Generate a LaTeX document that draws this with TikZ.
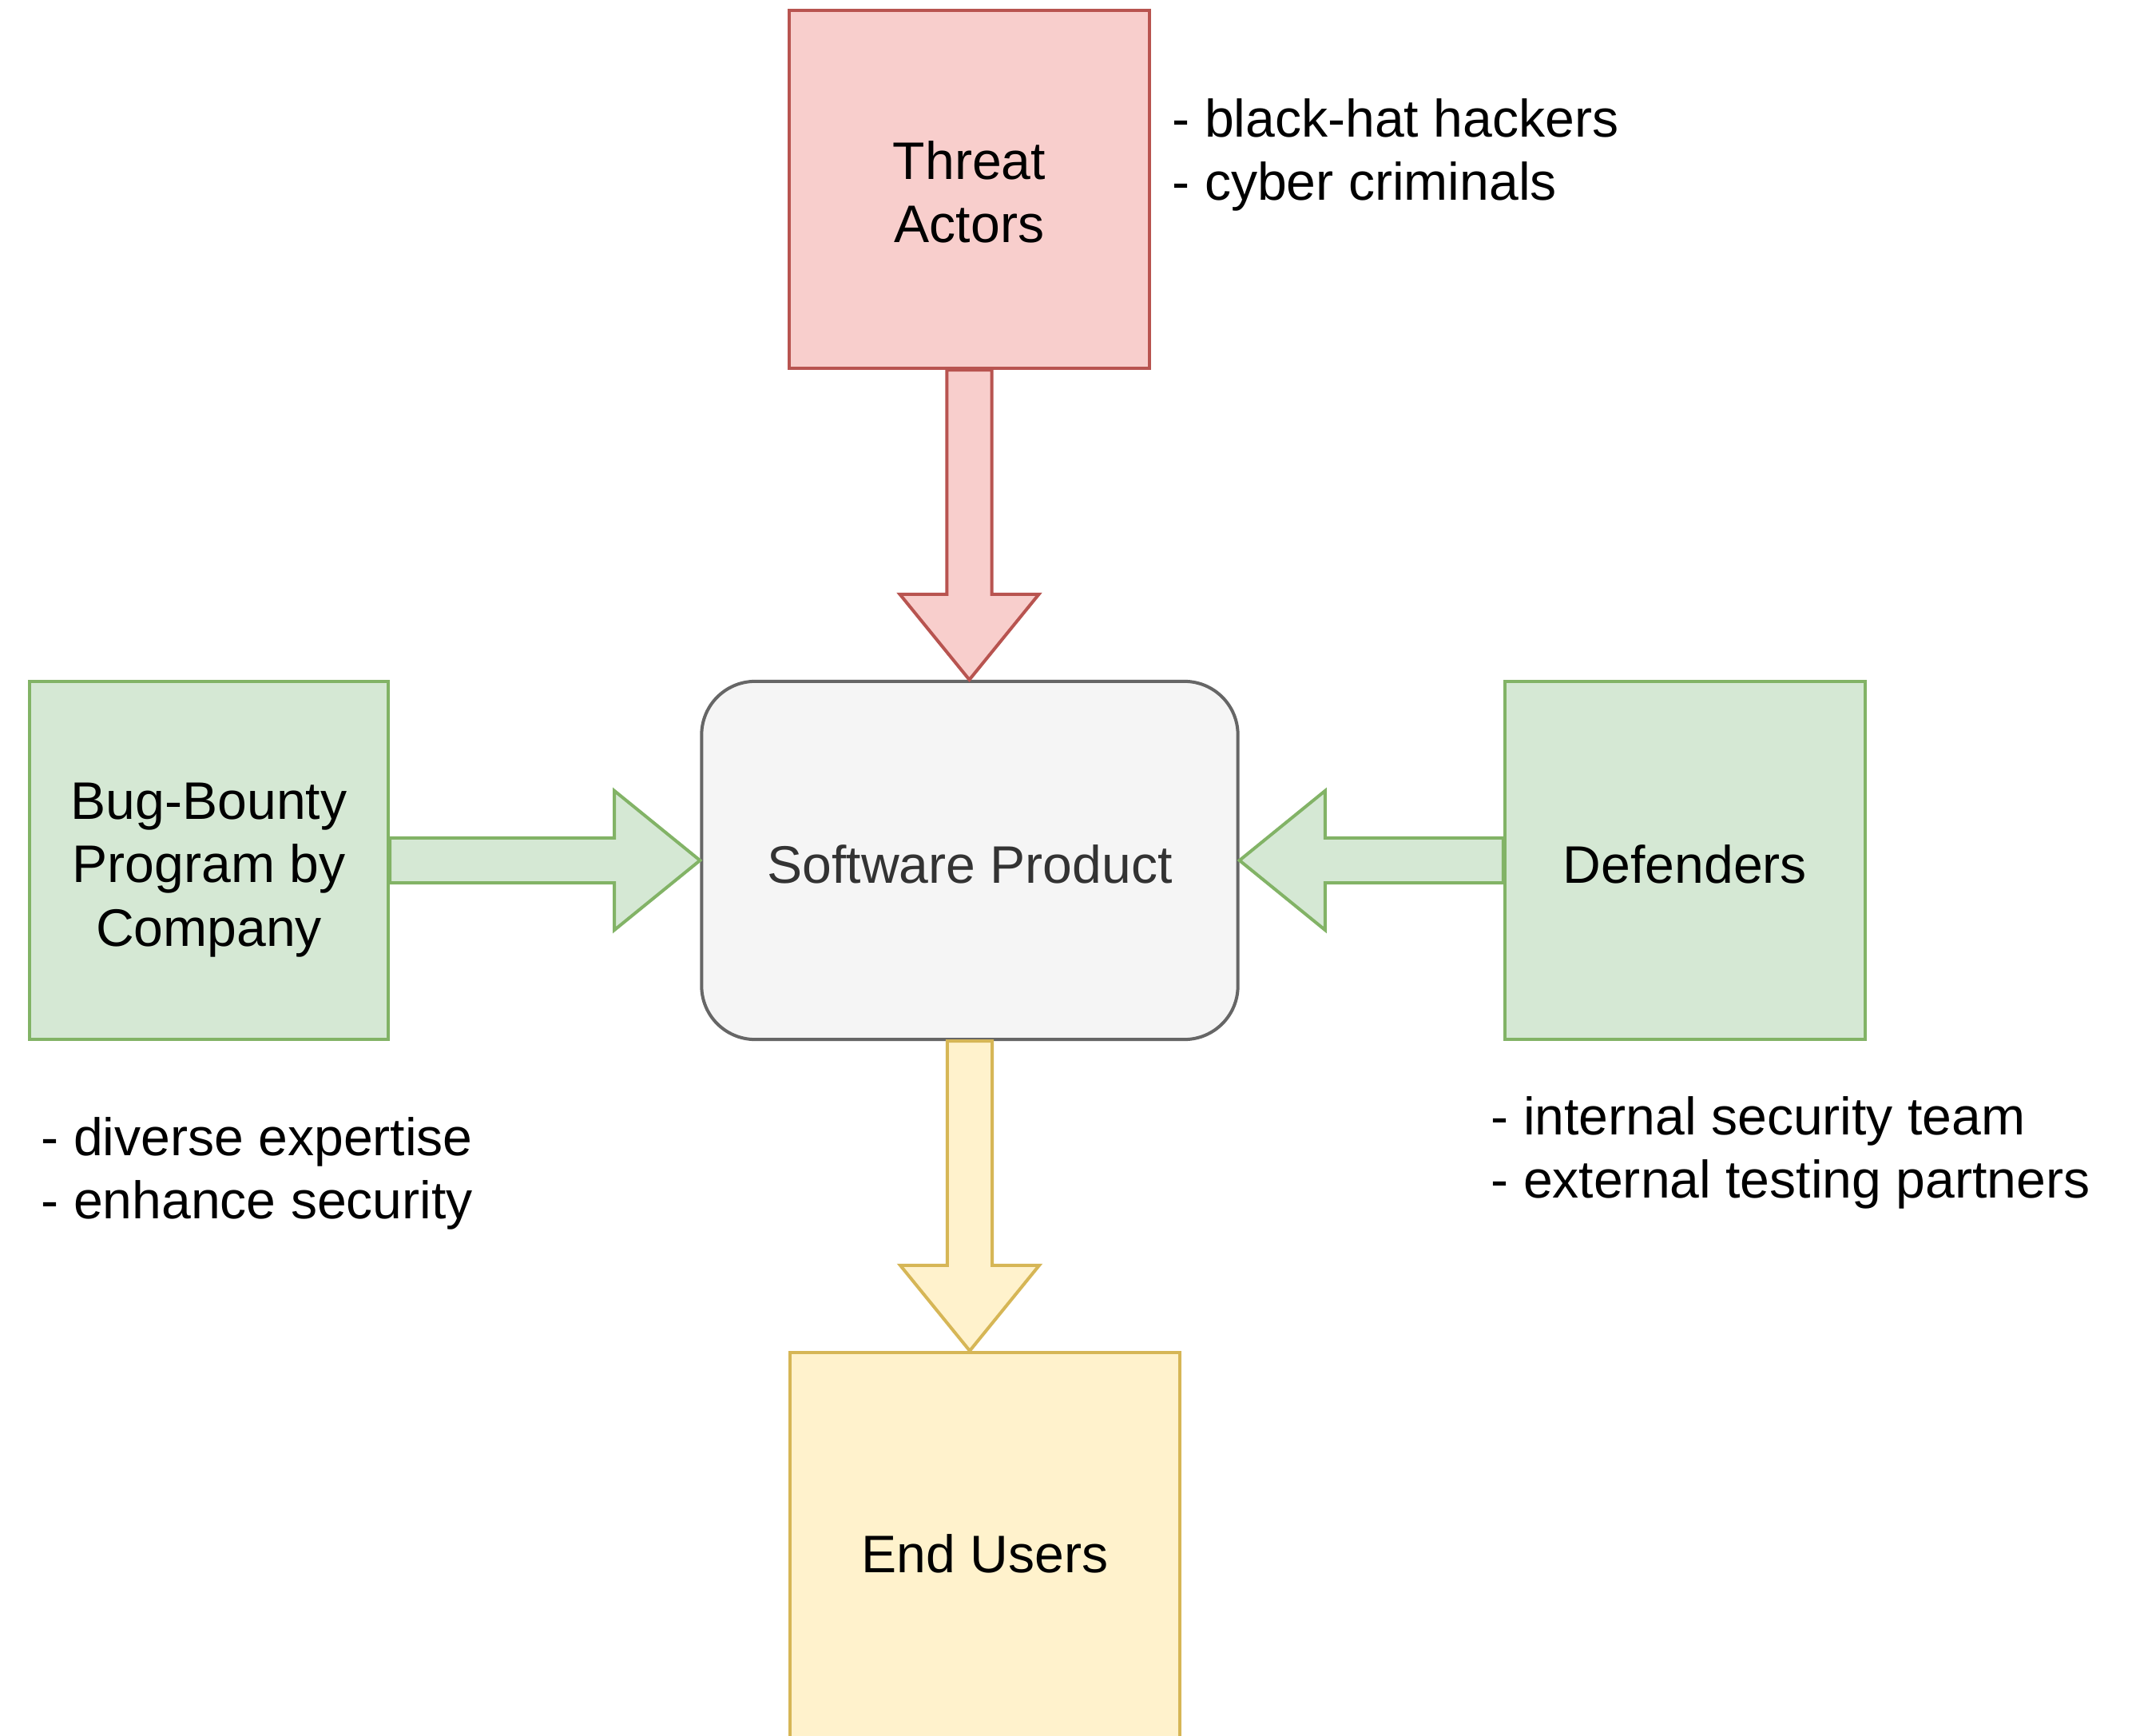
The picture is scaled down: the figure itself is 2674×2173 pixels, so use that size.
\documentclass[tikz,border=0pt]{standalone}
\usepackage{fontspec}
\setmainfont{Liberation Sans}
\usetikzlibrary{calc}
\definecolor{redfill}{HTML}{F8CECC}
\definecolor{redline}{HTML}{B85450}
\definecolor{greenfill}{HTML}{D5E8D4}
\definecolor{greenline}{HTML}{82B366}
\definecolor{yellowfill}{HTML}{FFF2CC}
\definecolor{yellowline}{HTML}{D6B656}
\definecolor{greyfill}{HTML}{F5F5F5}
\definecolor{greyline}{HTML}{666666}
\definecolor{greytext}{HTML}{333333}
\newcommand\blkarrow[3]{%
  \coordinate (ba-s) at (#2);
  \coordinate (ba-e) at (#3);
  \coordinate (ba-h) at ($(ba-e)!1.07cm!(ba-s)$);
  \draw[#1] ($(ba-s)!0.28cm!90:(ba-e)$) -- ($(ba-h)!0.28cm!-90:(ba-s)$)
    -- ($(ba-h)!0.87cm!-90:(ba-s)$) -- (ba-e) -- ($(ba-h)!0.87cm!90:(ba-s)$)
    -- ($(ba-h)!0.28cm!90:(ba-s)$) -- ($(ba-s)!0.28cm!-90:(ba-e)$) -- cycle;}
\begin{document}
\begin{tikzpicture}[x=0.01cm,y=-0.01cm,
  txt/.style={font=\fontsize{18.8}{22.5}\selectfont},
  box/.style={draw, line width=1.14pt, inner sep=0pt},
  boxtxt/.style={txt, inner sep=0pt, align=center},
  redbox/.style={box, fill=redfill, draw=redline},
  greenbox/.style={box, fill=greenfill, draw=greenline},
  yellowbox/.style={box, fill=yellowfill, draw=yellowline},
  greybox/.style={box, fill=greyfill, draw=greyline, rounded corners=0.67cm},
  note/.style={txt, anchor=west, align=left, inner sep=0pt},
  redarr/.style={fill=redfill, draw=redline, line width=1.14pt, line join=miter},
  greenarr/.style={fill=greenfill, draw=greenline, line width=1.14pt, line join=miter},
  yellowarr/.style={fill=yellowfill, draw=yellowline, line width=1.14pt, line join=miter}]
\useasboundingbox (0,0) rectangle (2674,2173);
\clip (0,0) rectangle (2674,2173);
\fill[white] (0,0) rectangle (2674,2173);

\node[redbox, minimum width=4.50cm, minimum height=4.48cm] (ta) at (1213.5,237) {};
\node[greybox, minimum width=6.71cm, minimum height=4.48cm] (sp) at (1214,1077) {};
\node[greenbox, minimum width=4.49cm, minimum height=4.48cm] (bb) at (261.5,1077) {};
\node[greenbox, minimum width=4.51cm, minimum height=4.48cm] (df) at (2109.5,1077) {};
\node[yellowbox, minimum width=4.88cm, minimum height=5.02cm] (eu) at (1233,1944) {};

\node[boxtxt] (ta-t) at ($(ta.center)+(0,3)$) {Threat\\Actors};
\node[boxtxt, text=greytext] (sp-t) at ($(sp.center)+(0,5)$) {Software Product};
\node[boxtxt] (bb-t) at ($(bb.center)+(0,12)$) {Bug-Bounty\\Program by\\Company};
\node[boxtxt] (df-t) at ($(df.center)+(0,5)$) {Defenders};
\node[boxtxt] (eu-t) at ($(eu.center)+(0,1)$) {End Users};

\node[note] (n1) at (1467,194) {- black-hat hackers\\- cyber criminals};
\node[note] (n2) at (51,1469) {- diverse expertise\\- enhance security};
\node[note] (n3) at (1866,1443) {- internal security team\\- external testing partners};

\blkarrow{redarr}{ta.south}{ta.south |- sp.north}
\blkarrow{greenarr}{bb.east}{sp.west}
\blkarrow{greenarr}{df.west}{sp.east}
\blkarrow{yellowarr}{sp.south}{sp.south |- eu.north}
\end{tikzpicture}
\end{document}
